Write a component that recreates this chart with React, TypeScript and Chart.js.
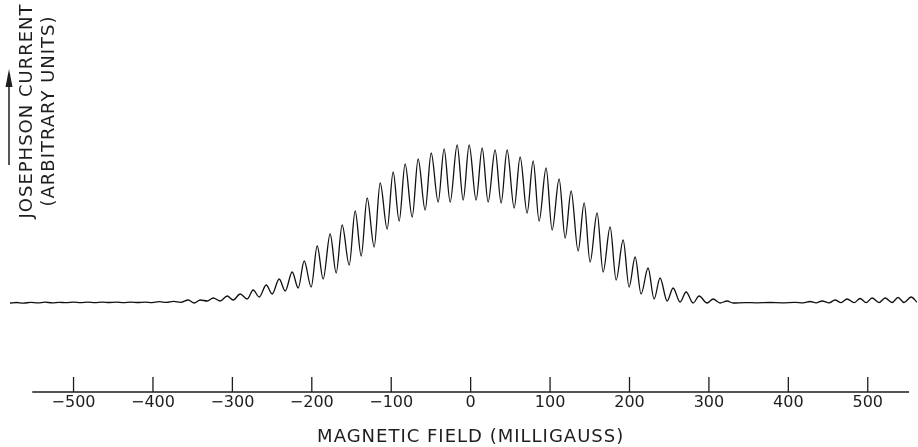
import { useEffect, useRef } from 'react';
import { Chart, registerables } from 'chart.js';

Chart.register(...registerables);

// Magnetic field (milligauss) and Josephson current (arbitrary units)
const LEFT_TAIL_FIELD = [-580, -572, -563, -554, -545, -536, -527, -518, -509, -500, -491, -482, -473, -464, -455, -446, -437, -428, -419, -410, -401, -392, -383, -374, -365];
const LEFT_TAIL_CURRENT = [0.0, 0.5, -0.2, 0.7, 0.1, 0.8, 0.2, 0.7, 0.3, 0.9, 0.3, 0.8, 0.3, 0.9, 0.5, 0.8, 0.4, 0.9, 0.5, 0.9, 0.4, 1.3, 0.6, 1.6, 0.7];

const PATTERN_FIELD = [
  -355.6, -348.1, -340.5, -331.7, -324.1, -315.3, -306.5, -299.0, -290.2, -281.3,
  -273.8, -266.2, -257.4, -249.9, -241.1, -233.5, -224.7, -217.1, -209.6, -200.8,
  -193.2, -185.7, -176.9, -169.3, -161.8, -152.9, -145.4, -137.8, -130.3, -121.5,
  -113.9, -105.1, -97.6, -90.0, -82.5, -73.6, -66.1, -57.3, -49.7, -40.9,
  -33.4, -25.8, -17.0, -9.4, -1.9, 6.9, 14.5, 22.0, 30.8, 38.4,
  45.9, 54.8, 62.3, 71.1, 78.7, 86.2, 95.0, 102.6, 111.4, 119.0,
  126.5, 135.3, 142.9, 150.4, 159.2, 166.8, 175.6, 183.2, 192.0, 199.5,
  207.1, 214.6, 223.4, 231.0, 238.5, 247.4, 254.9, 263.7, 271.3, 280.1,
  287.6, 297.7, 305.3, 314.1, 322.9, 330.4,
];
const PATTERN_CURRENT = [
  3, 0, 3, 2, 5, 2, 7, 3, 9, 4,
  13, 6, 18, 9, 24, 12, 31, 15, 42, 16,
  57, 24, 69, 30, 78, 38, 92, 47, 105, 56,
  120, 74, 131, 82, 139, 86, 144, 93, 150, 101,
  154, 101, 158, 103, 158, 103, 155, 101, 153, 100,
  153, 95, 146, 90, 142, 82, 135, 73, 124, 65,
  112, 52, 100, 41, 90, 31, 76, 23, 63, 16,
  46, 9, 35, 4, 25, 2, 15, 1, 11, 0,
  7, 0, 4, 0, 2, 0,
];

const RIGHT_TAIL_FIELD = [345.5, 360.6, 377.0, 392.0, 408.5, 418.6, 427.4, 434.9, 442.5, 451.3, 458.8, 466.4, 473.9, 482.8, 490.3, 497.9, 505.4, 514.2, 521.8, 530.6, 538.1, 545.7, 554.5, 562.1];
const RIGHT_TAIL_CURRENT = [0.4, 0.2, 0.5, 0.2, 0.6, 0.1, 1.5, 0.2, 2.0, 0.2, 3.0, 0.3, 4.0, 0.3, 4.5, 0.4, 5.0, 0.4, 5.0, 0.5, 5.5, 0.5, 6.0, 0.8];

const FIELD_TICKS = [-500, -400, -300, -200, -100, 0, 100, 200, 300, 400, 500];
const FIELD_MIN = -580;
const FIELD_MAX = 562;
const AXIS_FROM = -552;
const AXIS_TO = 552;
const CURRENT_MIN = -89;
const CURRENT_MAX = 303;

const X_TITLE = 'MAGNETIC FIELD (MILLIGAUSS)';
const Y_TITLE = ['JOSEPHSON CURRENT', '(ARBITRARY UNITS)'];

const FONT = '"DejaVu Sans", "Noto Sans", sans-serif';
const INK = '#1e1e1e';

const fmt = (v: number) => (v < 0 ? '\u2212' + Math.abs(v) : String(v));

const decor = {
  id: 'decor',
  afterDraw(chart: any) {
    const { ctx, chartArea, scales } = chart;
    const xs = scales.x;
    const y0 = chartArea.bottom;
    const a0 = xs.getPixelForValue(AXIS_FROM);
    const a1 = xs.getPixelForValue(AXIS_TO);
    ctx.save();
    ctx.strokeStyle = INK;
    ctx.lineWidth = 1.3;
    ctx.beginPath();
    ctx.moveTo(a0, y0);
    ctx.lineTo(a1, y0);
    for (const t of FIELD_TICKS) {
      const px = xs.getPixelForValue(t);
      ctx.moveTo(px, y0);
      ctx.lineTo(px, y0 - 15);
    }
    ctx.stroke();

    ctx.fillStyle = INK;
    ctx.font = '18px ' + FONT;
    (ctx as any).letterSpacing = '1px';
    ctx.textAlign = 'center';
    ctx.textBaseline = 'middle';
    ctx.fillText(X_TITLE, (a0 + a1) / 2, y0 + 45);

    ctx.save();
    ctx.translate(27, 111);
    ctx.rotate(-Math.PI / 2);
    ctx.fillText(Y_TITLE[0], 0, 0);
    ctx.fillText(Y_TITLE[1], 0, 22);
    ctx.restore();

    // arrow
    ctx.lineWidth = 1.5;
    ctx.beginPath();
    ctx.moveTo(9, 165);
    ctx.lineTo(9, 84);
    ctx.stroke();
    ctx.beginPath();
    ctx.moveTo(9, 69);
    ctx.lineTo(5.5, 87);
    ctx.lineTo(12.5, 87);
    ctx.closePath();
    ctx.fill();
    ctx.restore();
  },
};

export default function App() {
  const ref = useRef<HTMLCanvasElement | null>(null);
  useEffect(() => {
    if (!ref.current) return;
    const field = [...LEFT_TAIL_FIELD, ...PATTERN_FIELD, ...RIGHT_TAIL_FIELD];
    const current = [...LEFT_TAIL_CURRENT, ...PATTERN_CURRENT, ...RIGHT_TAIL_CURRENT];
    const data = field.map((x, i) => ({ x, y: current[i] }));
    const chart = new Chart(ref.current, {
      type: 'line',
      data: {
        datasets: [
          {
            data,
            borderColor: '#111',
            borderWidth: 1.3,
            pointRadius: 0,
            fill: false,
            cubicInterpolationMode: 'monotone',
          },
        ],
      },
      options: {
        animation: false,
        responsive: true,
        maintainAspectRatio: false,
        layout: { padding: { left: 10, right: 1, top: 0, bottom: 0 } },
        plugins: { legend: { display: false }, tooltip: { enabled: false } },
        scales: {
          x: {
            type: 'linear',
            min: FIELD_MIN,
            max: FIELD_MAX,
            grid: { display: false, drawTicks: false },
            border: { display: false },
            afterBuildTicks: (s: any) => {
              s.ticks = FIELD_TICKS.map((v) => ({ value: v }));
            },
            afterFit: (s: any) => {
              s.height = 55;
            },
            ticks: {
              padding: 1.4,
              maxRotation: 0,
              autoSkip: false,
              color: INK,
              font: { family: FONT, size: 16 },
              callback: (v: any) => fmt(Number(v)),
            },
          },
          y: { display: false, min: CURRENT_MIN, max: CURRENT_MAX },
        },
      },
      plugins: [decor],
    } as any);
    return () => chart.destroy();
  }, []);
  return (
    <div style={{ position: 'absolute', left: 0, top: 0, width: 918, height: 447, background: '#fff' }}>
      <canvas ref={ref} />
    </div>
  );
}
